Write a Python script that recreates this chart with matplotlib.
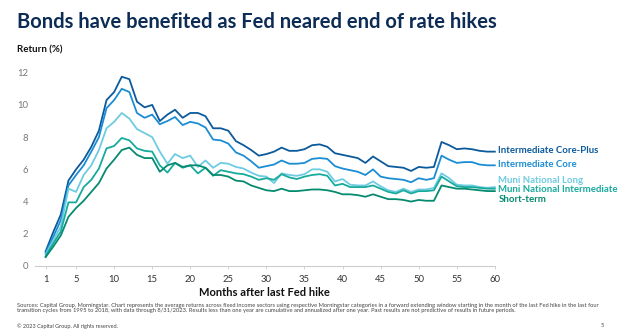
import matplotlib
matplotlib.use("Agg")
import matplotlib.pyplot as plt
import numpy as np

plt.rcParams["font.family"] = ["Lato", "DejaVu Sans"]

# average returns (%) by month after the last Fed hike
months = np.arange(1, 61)

core_plus = [0.9, 2.1, 3.2, 5.3, 6.0, 6.6, 7.4, 8.4, 10.3, 10.8,
             11.75, 11.6, 10.2, 9.85, 10.0, 9.0, 9.4, 9.7, 9.2, 9.5,
             9.5, 9.3, 8.55, 8.55, 8.4, 7.75, 7.5, 7.2, 6.85, 6.95,
             7.1, 7.35, 7.15, 7.15, 7.25, 7.5, 7.55, 7.4, 7.0, 6.9,
             6.8, 6.7, 6.4, 6.8, 6.5, 6.2, 6.15, 6.1, 5.9, 6.15,
             6.1, 6.15, 7.7, 7.5, 7.25, 7.3, 7.25, 7.15, 7.1, 7.1]

core = [0.8, 1.8, 2.85, 5.0, 5.65, 6.25, 7.1, 8.0, 9.8, 10.3,
        11.0, 10.8, 9.5, 9.2, 9.4, 8.8, 9.0, 9.25, 8.75, 8.95,
        8.85, 8.6, 7.85, 7.8, 7.6, 7.05, 6.85, 6.5, 6.1, 6.2,
        6.3, 6.55, 6.35, 6.35, 6.4, 6.65, 6.7, 6.65, 6.2, 6.05,
        5.95, 5.85, 5.65, 6.0, 5.55, 5.45, 5.4, 5.35, 5.2, 5.45,
        5.35, 5.45, 6.85, 6.6, 6.4, 6.45, 6.45, 6.3, 6.25, 6.25]

muni_long = [0.7, 1.6, 2.45, 4.8, 4.6, 5.65, 6.25, 7.2, 8.55, 8.95,
             9.5, 9.15, 8.5, 8.25, 8.0, 7.1, 6.35, 6.95, 6.7, 6.85,
             6.15, 6.55, 6.1, 6.4, 6.35, 6.15, 6.05, 5.8, 5.6, 5.55,
             5.15, 5.75, 5.65, 5.6, 5.7, 6.0, 6.0, 5.85, 5.25, 5.4,
             5.05, 5.0, 5.0, 5.25, 4.95, 4.7, 4.6, 4.8, 4.6, 4.75,
             4.75, 4.85, 5.75, 5.45, 5.05, 5.0, 5.0, 4.9, 4.85, 4.9]

muni_int = [0.6, 1.4, 2.15, 3.95, 3.95, 4.9, 5.35, 6.05, 7.3, 7.45,
            7.95, 7.8, 7.3, 7.15, 7.1, 6.25, 5.8, 6.4, 6.1, 6.25,
            5.75, 6.1, 5.6, 5.95, 5.85, 5.75, 5.7, 5.55, 5.35, 5.45,
            5.35, 5.7, 5.5, 5.4, 5.55, 5.65, 5.7, 5.6, 5.0, 5.1,
            4.9, 4.9, 4.9, 5.0, 4.8, 4.6, 4.5, 4.7, 4.5, 4.65,
            4.65, 4.7, 5.55, 5.25, 4.95, 4.9, 4.9, 4.85, 4.8, 4.8]

short_term = [0.55, 1.2, 1.9, 3.05, 3.6, 4.05, 4.6, 5.15, 6.05, 6.6,
              7.2, 7.35, 6.9, 6.7, 6.7, 5.85, 6.25, 6.4, 6.15, 6.25,
              6.25, 6.1, 5.65, 5.65, 5.55, 5.3, 5.25, 5.0, 4.85, 4.7,
              4.65, 4.8, 4.65, 4.65, 4.7, 4.75, 4.75, 4.7, 4.6, 4.45,
              4.45, 4.4, 4.3, 4.45, 4.3, 4.15, 4.15, 4.1, 4.0, 4.1,
              4.05, 4.05, 5.0, 4.9, 4.8, 4.8, 4.75, 4.7, 4.65, 4.65]

# name, values, colour, vertical nudge of the end label (points)
series = [
    ("Intermediate Core-Plus", core_plus, "#0b5a9c", 1.0),
    ("Intermediate Core", core, "#1a8dd4", 0.8),
    ("Muni National Long", muni_long, "#6dcbe2", 4.8),
    ("Muni National Intermediate", muni_int, "#17ab9d", -0.5),
    ("Short-term", short_term, "#068a70", -6.3),
]

x_ticks = [1, 5, 10, 15, 20, 25, 30, 35, 40, 45, 50, 55, 60]
y_ticks = [0, 2, 4, 6, 8, 10, 12]

fig = plt.figure(figsize=(6.24, 3.34), dpi=100)
ax = fig.add_axes([0.056, 0.2036, 0.737, 0.5787])

for name, vals, color, dy in series:
    ax.plot(months, vals, color=color, lw=1.3, clip_on=False, zorder=3)
    ax.annotate(name, xy=(months[-1], vals[-1]), xytext=(2.5, dy),
                textcoords="offset points", va="center", ha="left",
                color=color, fontsize=6.9, fontweight="bold",
                annotation_clip=False)

ax.set_xlim(-0.4, 60)
ax.set_ylim(0, 12)
ax.set_xticks(x_ticks)
ax.set_yticks(y_ticks)
ax.tick_params(axis="x", length=2.5, width=0.6, color="#cccccc",
               labelsize=6.8, labelcolor="#333333", pad=4)
ax.tick_params(axis="y", length=0, labelsize=6.8, labelcolor="#777777", pad=5)
for side in ["top", "right", "left"]:
    ax.spines[side].set_visible(False)
ax.spines["bottom"].set_color("#cccccc")
ax.spines["bottom"].set_linewidth(0.8)

ax.set_xlabel("Months after last Fed hike", fontsize=8, fontweight="bold",
              color="#111111", labelpad=2)

fig.text(0.027, 0.934, "Bonds have benefited as Fed neared end of rate hikes",
         fontsize=14.5, fontweight="bold", color="#0c2c55", va="center")
fig.text(0.027, 0.851, "Return (%)", fontsize=7, fontweight="bold",
         color="#111111", va="center")

fig.text(0.027, 0.078,
         "Sources: Capital Group, Morningstar. Chart represents the average returns across fixed income sectors "
         "using respective Morningstar categories in a forward extending window starting in the month of the last "
         "Fed hike in the last four\ntransition cycles from 1995 to 2018, with data through 8/31/2023. Results less "
         "than one year are cumulative and annualized after one year. Past results are not predictive of results "
         "in future periods.",
         fontsize=4.15, color="#444444", va="center", linespacing=1.2)
fig.text(0.027, 0.024, "\u00a9 2023 Capital Group. All rights reserved.",
         fontsize=4.0, color="#444444", va="center")
fig.text(0.962, 0.024, "5", fontsize=4.0, color="#444444", va="center")

fig.savefig("out.png", dpi=100)
